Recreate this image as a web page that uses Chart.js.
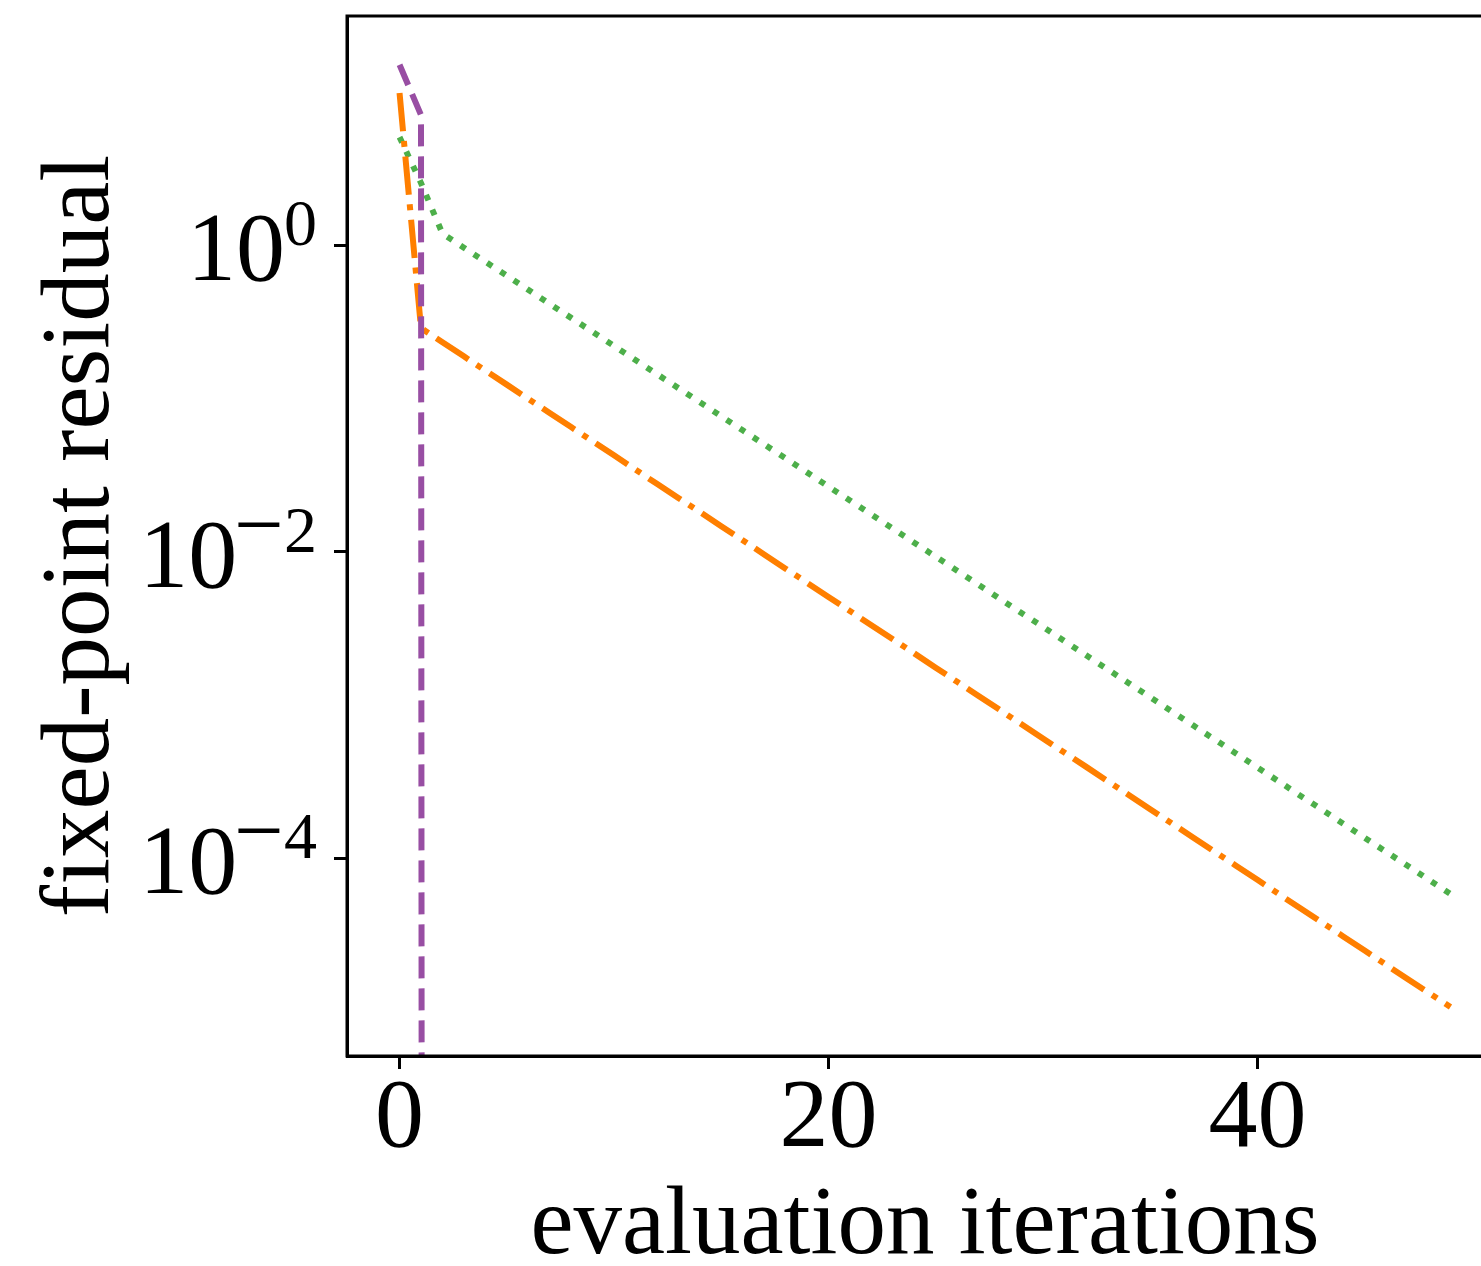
<!DOCTYPE html>
<html>
<head>
<meta charset="utf-8">
<script src="https://cdn.jsdelivr.net/npm/chart.js@4.4.1/dist/chart.umd.min.js"></script>
<style>
  html, body { margin: 0; padding: 0; background: #fff; overflow: hidden; }
  canvas { display: block; }
</style>
</head>
<body>
<canvas id="chart" width="1560" height="1266" style="width:1560px;height:1266px"></canvas>
<script>
// evaluation iterations (x)
const iterations = [
  0, 1, 2, 3, 4, 5, 6, 7, 8, 9, 10, 11, 12, 13, 14, 15, 16, 17, 18, 19,
  20, 21, 22, 23, 24, 25, 26, 27, 28, 29, 30, 31, 32, 33, 34, 35, 36, 37, 38, 39,
  40, 41, 42, 43, 44, 45, 46, 47, 48, 49
];

// purple dashed: drops to (numerically) zero right after iteration 1
const residualDashed = [15.0, 7.05, 1e-300];

// orange dash-dot
const residualDashDot = [
  9.8, 0.2875, 0.2325, 0.1879, 0.1519, 0.1229, 0.0993, 0.0803, 0.0650, 0.0525,
  0.0425, 0.0343, 0.0277, 0.0224, 0.01814, 0.01467, 0.01186, 0.00959, 0.00775, 0.00627,
  0.00507, 0.00410, 0.00331, 0.00268, 0.00217, 0.00175, 0.001416, 0.001145, 0.000926, 0.000748,
  0.000605, 0.000489, 0.000396, 0.000320, 0.000259, 0.000209, 0.000169, 0.0001367, 0.0001105, 0.0000894,
  0.0000723, 0.0000584, 0.0000472, 0.0000382, 0.0000309, 0.0000250, 0.0000202, 0.0000163, 0.0000132, 0.0000107
];

// green dotted
const residualDotted = [
  5.06, 2.54, 1.189, 0.962, 0.779, 0.631, 0.511, 0.4138, 0.3350, 0.2713,
  0.2197, 0.1779, 0.1440, 0.1166, 0.0944, 0.0764, 0.0619, 0.0501, 0.0406, 0.0329,
  0.0266, 0.02157, 0.01746, 0.01414, 0.01145, 0.00927, 0.00751, 0.00608, 0.00492, 0.00398,
  0.00323, 0.00261, 0.002115, 0.001713, 0.001387, 0.001123, 0.000910, 0.000736, 0.000596, 0.000483,
  0.000391, 0.000317, 0.000256, 0.000208, 0.000168, 0.0001361, 0.0001102, 0.0000893, 0.0000723, 0.0000585
];

const xTickValues = [0, 20, 40];
const yTickValues = [1e-4, 1e-2, 1];

const FONT = '"Liberation Serif", "Times New Roman", serif';

// spines, y tick labels with superscript exponents, axis titles
const frame = {
  id: 'frame',
  afterDraw(chart) {
    const { ctx, chartArea: a, scales: { y } } = chart;
    ctx.save();
    ctx.strokeStyle = '#000';
    ctx.lineWidth = 3;
    ctx.strokeRect(a.left, a.top, a.right - a.left, a.bottom - a.top);

    ctx.fillStyle = '#000';
    ctx.textAlign = 'right';
    ctx.textBaseline = 'alphabetic';
    const R = 317;
    y.ticks.forEach(t => {
      const py = y.getPixelForValue(t.value);
      const e = Math.round(Math.log10(t.value));
      const digits = String(Math.abs(e));
      ctx.font = '66px ' + FONT;
      const dw = ctx.measureText(digits).width;
      ctx.fillText(digits, R, py);
      let x = R - dw;
      if (e < 0) {
        ctx.font = '88px ' + FONT;
        const mw = ctx.measureText('\u2212').width;
        ctx.fillText('\u2212', x, py + 2);
        x -= mw - 3;
      } else {
        x += 1;
      }
      ctx.font = '98px ' + FONT;
      ctx.fillText('10', x, py + 35);
    });

    ctx.font = '97px ' + FONT;
    ctx.textAlign = 'center';
    ctx.fillText('evaluation iterations', (a.left + a.right) / 2, 1253);

    ctx.translate(108, (a.top + a.bottom) / 2);
    ctx.rotate(-Math.PI / 2);
    ctx.fillText('fixed-point residual', 0, 0);
    ctx.restore();
  }
};

new Chart(document.getElementById('chart').getContext('2d'), {
  type: 'line',
  data: {
    labels: iterations,
    datasets: [
      {
        data: residualDashed,
        borderColor: '#984ea3',
        borderWidth: 6,
        borderDash: [22, 10],
        borderCapStyle: 'butt',
        borderJoinStyle: 'round',
        pointRadius: 0,
        tension: 0,
        fill: false,
      },
      {
        data: residualDashDot,
        borderColor: '#ff7f00',
        borderWidth: 6,
        borderDash: [38.4, 9.6, 6, 9.6],
        borderCapStyle: 'butt',
        borderJoinStyle: 'round',
        pointRadius: 0,
        tension: 0,
        fill: false,
      },
      {
        data: residualDotted,
        borderColor: '#4daf4a',
        borderWidth: 6,
        borderDash: [6, 9.9],
        borderCapStyle: 'butt',
        borderJoinStyle: 'round',
        pointRadius: 0,
        tension: 0,
        fill: false,
      },
    ],
  },
  options: {
    responsive: false,
    animation: false,
    devicePixelRatio: 1,
    layout: { padding: { top: 16, right: 57, bottom: 0, left: 0 } },
    plugins: {
      legend: { display: false },
      tooltip: { enabled: false },
    },
    scales: {
      x: {
        type: 'linear',
        min: -2.45,
        max: 51.45,
        bounds: 'data',
        afterBuildTicks: (s) => { s.ticks = xTickValues.map(v => ({ value: v })); },
        afterFit: (s) => { s.height = 210; },
        grid: { drawOnChartArea: false, drawTicks: true, tickLength: 13, tickWidth: 3, tickColor: '#000' },
        border: { display: true, color: '#000', width: 3 },
        ticks: {
          autoSkip: false,
          maxRotation: 0,
          padding: 2,
          color: '#000',
          font: { family: FONT, size: 98, lineHeight: 1 },
          callback: (v) => String(v),
        },
      },
      y: {
        type: 'logarithmic',
        min: 5.13e-6,
        max: 31.2,
        bounds: 'data',
        afterBuildTicks: (s) => { s.ticks = yTickValues.map(v => ({ value: v })); },
        afterFit: (s) => { s.width = 347; },
        grid: { drawOnChartArea: false, drawTicks: true, tickLength: 13, tickWidth: 3, tickColor: '#000' },
        border: { display: true, color: '#000', width: 3 },
        ticks: { display: false },
      },
    },
  },
  plugins: [frame],
});
</script>
</body>
</html>
